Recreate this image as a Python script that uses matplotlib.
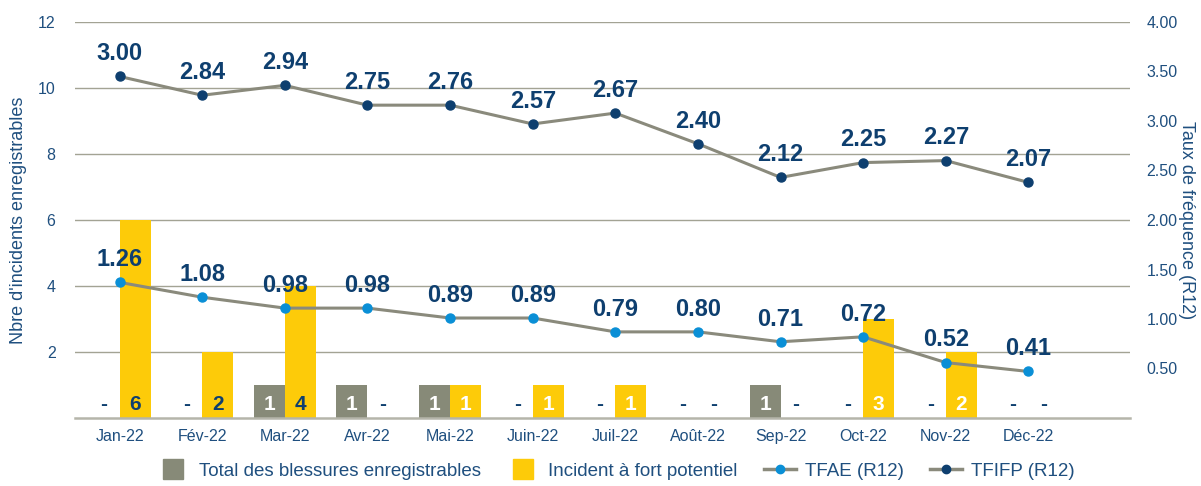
import matplotlib
matplotlib.use("Agg")
import matplotlib.pyplot as plt
from matplotlib.lines import Line2D
import numpy as np

plt.rcParams['font.family'] = ['Liberation Sans', 'DejaVu Sans']

months = ["Jan-22", "Fév-22", "Mar-22", "Avr-22", "Mai-22", "Juin-22",
          "Juil-22", "Août-22", "Sep-22", "Oct-22", "Nov-22", "Déc-22"]
blessures = [0, 0, 1, 1, 1, 0, 0, 0, 1, 0, 0, 0]
incidents = [6, 2, 4, 0, 1, 1, 1, 0, 0, 3, 2, 0]
tfae = [1.37, 1.22, 1.11, 1.11, 1.01, 1.01, 0.87, 0.87, 0.77, 0.82, 0.56, 0.47]
tfae_labels = ["1.26", "1.08", "0.98", "0.98", "0.89", "0.89", "0.79", "0.80",
               "0.71", "0.72", "0.52", "0.41"]
tfifp = [3.45, 3.26, 3.36, 3.16, 3.16, 2.97, 3.08, 2.77, 2.43, 2.58, 2.60, 2.38]
tfifp_labels = ["3.00", "2.84", "2.94", "2.75", "2.76", "2.57", "2.67", "2.40",
                "2.12", "2.25", "2.27", "2.07"]

NAVY = "#0e3f6f"
TICK = "#1f4f7f"
GRAY_BAR = "#878a78"
YELLOW = "#fdcb09"
LINE = "#8a8a7c"
LIGHT_BLUE = "#0a8fd6"
GRID = "#a3a394"

fig = plt.figure(figsize=(12.01, 4.86), dpi=100)
ax = fig.add_axes([75/1201, 68/486, (1130-75)/1201, (418-22)/486])
ax2 = ax.twinx()

x = np.arange(len(months))
w = 0.375
ax.bar(x - w/2, blessures, width=w, color=GRAY_BAR, zorder=2)
ax.bar(x + w/2, incidents, width=w, color=YELLOW, zorder=2)

yellow_dark = {0, 1, 2}
for i in range(len(months)):
    b = blessures[i]
    ax.text(x[i] - w/2, 0.4, str(b) if b else "-", ha='center', va='center',
            fontsize=15, fontweight='bold', color='white' if b else NAVY, zorder=4)
    v = incidents[i]
    if v:
        col = NAVY if i in yellow_dark else 'white'
    else:
        col = NAVY
    ax.text(x[i] + w/2, 0.4, str(v) if v else "-", ha='center', va='center',
            fontsize=15, fontweight='bold', color=col, zorder=4)

ax.set_ylim(0, 12)
ax.set_xlim(-0.54, 11 + 1.23)
ax.set_yticks([2, 4, 6, 8, 10, 12])
ax.yaxis.grid(True, color=GRID, linewidth=1.0)
ax.set_axisbelow(True)
for s in ['top', 'right', 'left']:
    ax.spines[s].set_visible(False)
ax.spines['bottom'].set_color("#b5b5aa")
ax.spines['bottom'].set_linewidth(1.8)
ax.set_xticks(x)
ax.set_xticklabels(months)
ax.tick_params(axis='x', length=0, pad=8, labelsize=11.5, labelcolor=TICK)
ax.tick_params(axis='y', length=0, pad=14, labelsize=11.5, labelcolor=TICK)
ax.set_ylabel("Nbre d'incidents enregistrables", fontsize=13, color=TICK, labelpad=8)

ax2.set_ylim(0, 4)
ax2.set_yticks([0.5, 1.0, 1.5, 2.0, 2.5, 3.0, 3.5, 4.0])
ax2.set_yticklabels([f"{v:.2f}" for v in [0.5, 1.0, 1.5, 2.0, 2.5, 3.0, 3.5, 4.0]])
for s in ['top', 'right', 'left', 'bottom']:
    ax2.spines[s].set_visible(False)
ax2.tick_params(axis='y', length=0, pad=12, labelsize=11.5, labelcolor=TICK)
ax2.set_ylabel("Taux de fréquence (R12)", fontsize=13, color=TICK, rotation=270, labelpad=12)

ax2.plot(x, tfae, color=LINE, linewidth=2.2, marker='o', markersize=6.5,
         markerfacecolor=LIGHT_BLUE, markeredgecolor=LIGHT_BLUE, zorder=3)
ax2.plot(x, tfifp, color=LINE, linewidth=2.2, marker='o', markersize=6.5,
         markerfacecolor=NAVY, markeredgecolor=NAVY, zorder=3)
for i in range(len(months)):
    ax2.annotate(tfae_labels[i], (x[i], tfae[i]), xytext=(0, 8), textcoords='offset points',
                 ha='center', va='bottom', fontsize=17, fontweight='bold', color=NAVY)
    ax2.annotate(tfifp_labels[i], (x[i], tfifp[i]), xytext=(0, 8), textcoords='offset points',
                 ha='center', va='bottom', fontsize=17, fontweight='bold', color=NAVY)

handles = [
    Line2D([], [], marker='s', linestyle='none', markersize=15, color=GRAY_BAR),
    Line2D([], [], marker='s', linestyle='none', markersize=15, color=YELLOW),
    Line2D([], [], color=LINE, linewidth=2.5, marker='o', markersize=6,
           markerfacecolor=LIGHT_BLUE, markeredgecolor=LIGHT_BLUE),
    Line2D([], [], color=LINE, linewidth=2.5, marker='o', markersize=6,
           markerfacecolor=NAVY, markeredgecolor=NAVY),
]
labels = ["Total des blessures enregistrables", "Incident à fort potentiel",
          "TFAE (R12)", "TFIFP (R12)"]
leg = fig.legend(handles, labels, loc='center', bbox_to_anchor=(0.513, 0.03), ncol=4,
                 frameon=False, fontsize=13.5, handlelength=1.7, columnspacing=1.4,
                 handletextpad=0.5, labelcolor=TICK)

fig.savefig("out.png", dpi=100)
